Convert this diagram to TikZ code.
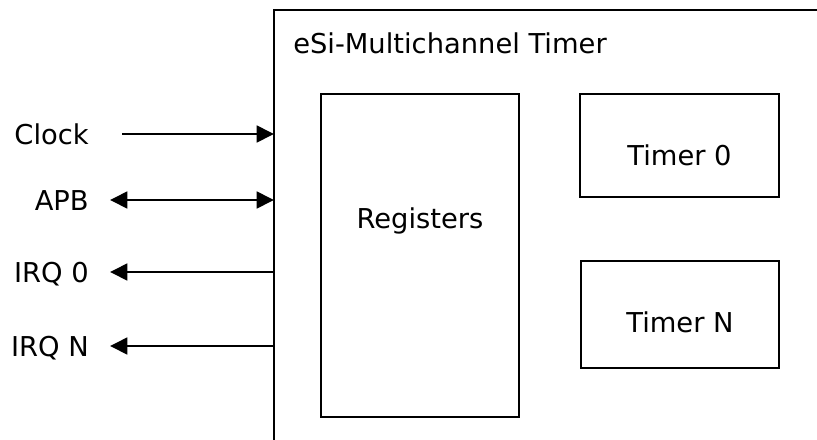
\documentclass[tikz,border=0pt]{standalone}
\usepackage{fontspec}
\setmainfont{DejaVu Sans}
\usetikzlibrary{arrows.meta,positioning}
\tikzset{
  blk/.style={draw, line width=1.8pt, inner sep=0pt, outer sep=0pt, anchor=north west},
  sig/.style={line width=2pt},
  lbl/.style={inner sep=0pt, text height=15pt, text depth=0pt,
    font=\fontsize{20.5}{24}\selectfont},
  >={Triangle[length=13pt,width=12.5pt]},
}
\begin{document}
\begin{tikzpicture}[x=0.75pt, y=-0.75pt]
\clip (0,0) rectangle (817,439);
% outer block, runs past the right and bottom edge
\node[blk, minimum width=439.5pt, minimum height=352.5pt] (esi) at (274,10) {};
\node[lbl, anchor=west] (title) at (293,43) {eSi-Multichannel Timer};
\node[blk, minimum width=148.5pt, minimum height=242.25pt] (regs) at (321,94) {};
\node[blk, minimum width=149.25pt, minimum height=77.25pt] (tmr0) at (580,94) {};
\node[blk, minimum width=148.5pt, minimum height=80.25pt] (tmrn) at (581,261) {};
\node[lbl] (regstxt) at ([yshift=28pt]regs.center) {Registers};
\node[lbl] (tmr0txt) at ([yshift=-7.5pt]tmr0.center) {Timer 0};
\node[lbl] (tmrntxt) at ([yshift=-6pt]tmrn.center) {Timer N};
% signals
\foreach \nm/\txt/\y in {clk/Clock/134, apb/APB/200, irq0/IRQ 0/272, irqn/IRQ N/346}
{
    \node[lbl, anchor=east] (\nm) at (89,\y) {\txt};
}
\draw[sig, ->] ([xshift=24.75pt]clk.east) -- (clk.east -| esi.west);
\draw[sig, <->] ([xshift=15.75pt]apb.east) -- (apb.east -| esi.west);
\draw[sig, <-] ([xshift=15.75pt]irq0.east) -- (irq0.east -| esi.west);
\draw[sig, <-] ([xshift=15.75pt]irqn.east) -- (irqn.east -| esi.west);
\end{tikzpicture}
\end{document}
